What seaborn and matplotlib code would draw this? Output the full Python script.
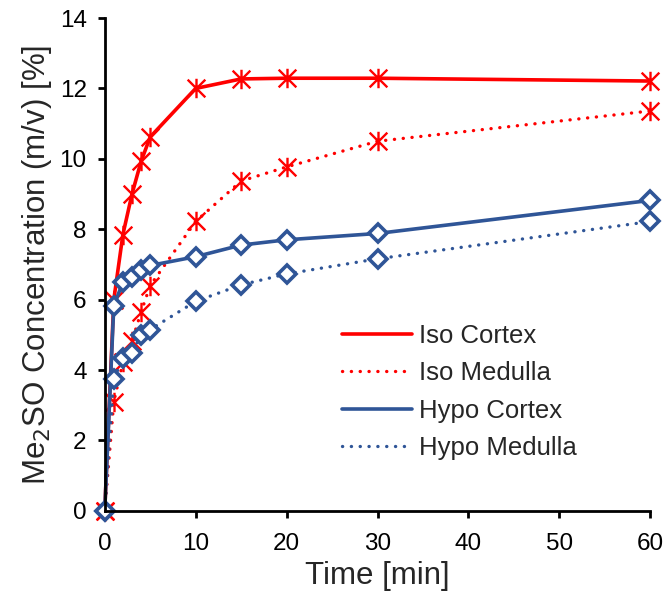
import numpy as np
import pandas as pd
import matplotlib
matplotlib.use("Agg")
import matplotlib.pyplot as plt
from matplotlib.path import Path
from matplotlib.lines import Line2D
import seaborn as sns

time_min = [0, 1, 2, 3, 4, 5, 10, 15, 20, 30, 60]
iso_cortex = [0, 6.0, 7.85, 9.0, 9.93, 10.62, 12.0, 12.27, 12.29, 12.29, 12.21]
iso_medulla = [0, 3.1, 4.22, 4.82, 5.65, 6.4, 8.22, 9.37, 9.77, 10.5, 11.36]
hypo_cortex = [0, 5.82, 6.5, 6.65, 6.84, 6.97, 7.22, 7.55, 7.7, 7.88, 8.82]
hypo_medulla = [0, 3.75, 4.33, 4.49, 5.0, 5.15, 5.95, 6.42, 6.73, 7.16, 8.22]
series_names = ["Iso Cortex", "Iso Medulla", "Hypo Cortex", "Hypo Medulla"]
x_ticks = [0, 10, 20, 30, 40, 50, 60]
y_ticks = [0, 2, 4, 6, 8, 10, 12, 14]

sns.set_theme(style="ticks")
plt.rcParams["font.family"] = ["Liberation Sans", "DejaVu Sans"]

RED = "#FF0000"
BLUE = "#2F5597"

# Excel-like star marker: X with vertical bar
star = Path([(-1, -1), (1, 1), (-1, 1), (1, -1), (0, -1.1), (0, 1.1)],
            [Path.MOVETO, Path.LINETO, Path.MOVETO, Path.LINETO, Path.MOVETO, Path.LINETO])

fig = plt.figure(figsize=(6.67, 6.01), dpi=100)
ax = fig.add_axes([0.157, 0.150, 0.818, 0.820])

dotted = (0, (0.05, 2.6))
specs = [
    (iso_cortex, RED, "-", star, dict(markersize=14, markeredgewidth=1.7, markerfacecolor="none", markeredgecolor=RED)),
    (iso_medulla, RED, dotted, star, dict(markersize=14, markeredgewidth=1.7, markerfacecolor="none", markeredgecolor=RED)),
    (hypo_cortex, BLUE, "-", "D", dict(markersize=9, markeredgewidth=2.6, markerfacecolor="white", markeredgecolor=BLUE)),
    (hypo_medulla, BLUE, dotted, "D", dict(markersize=9, markeredgewidth=2.6, markerfacecolor="white", markeredgecolor=BLUE)),
]

for name, (vals, col, ls, mk, mkw) in zip(series_names, specs):
    df = pd.DataFrame({"Time": time_min, "Conc": vals})
    sns.lineplot(data=df, x="Time", y="Conc", ax=ax, color=col, linestyle=ls,
                 linewidth=2.6 if ls == "-" else 2.4, marker=mk,
                 dash_capstyle="round", solid_capstyle="round", label=None, **mkw)

handles = []
for name, (vals, col, ls, mk, mkw) in zip(series_names, specs):
    handles.append(Line2D([0], [0], color=col, linestyle=ls, linewidth=2.6 if ls == "-" else 2.4,
                          dash_capstyle="round", solid_capstyle="round"))
leg = ax.legend(handles, series_names, loc="center left", bbox_to_anchor=(319 / 667, 1 - 392 / 601),
                bbox_transform=fig.transFigure,
                frameon=False, fontsize=18.5, handlelength=2.7, handletextpad=0.3, labelspacing=0.52)

ax.set_xlim(0, 60)
ax.set_ylim(0, 14)
ax.set_xticks(x_ticks)
ax.set_yticks(y_ticks)
ax.set_xlabel("Time [min]", fontsize=22.5, labelpad=4)
ax.set_ylabel("Me$_2$SO Concentration (m/v) [%]", fontsize=22.5, labelpad=4)
ax.tick_params(axis="both", labelsize=17.5, width=2, length=5, direction="out", color="black",
               labelcolor="black", pad=8)
ax.tick_params(axis="x", pad=11)
for s in ["top", "right"]:
    ax.spines[s].set_visible(False)
for s in ["left", "bottom"]:
    ax.spines[s].set_linewidth(2)
    ax.spines[s].set_color("black")
ax.set_facecolor("white")
fig.patch.set_facecolor("white")
for ln in ax.get_lines():
    ln.set_clip_on(False)

fig.savefig("out.png", dpi=100)
